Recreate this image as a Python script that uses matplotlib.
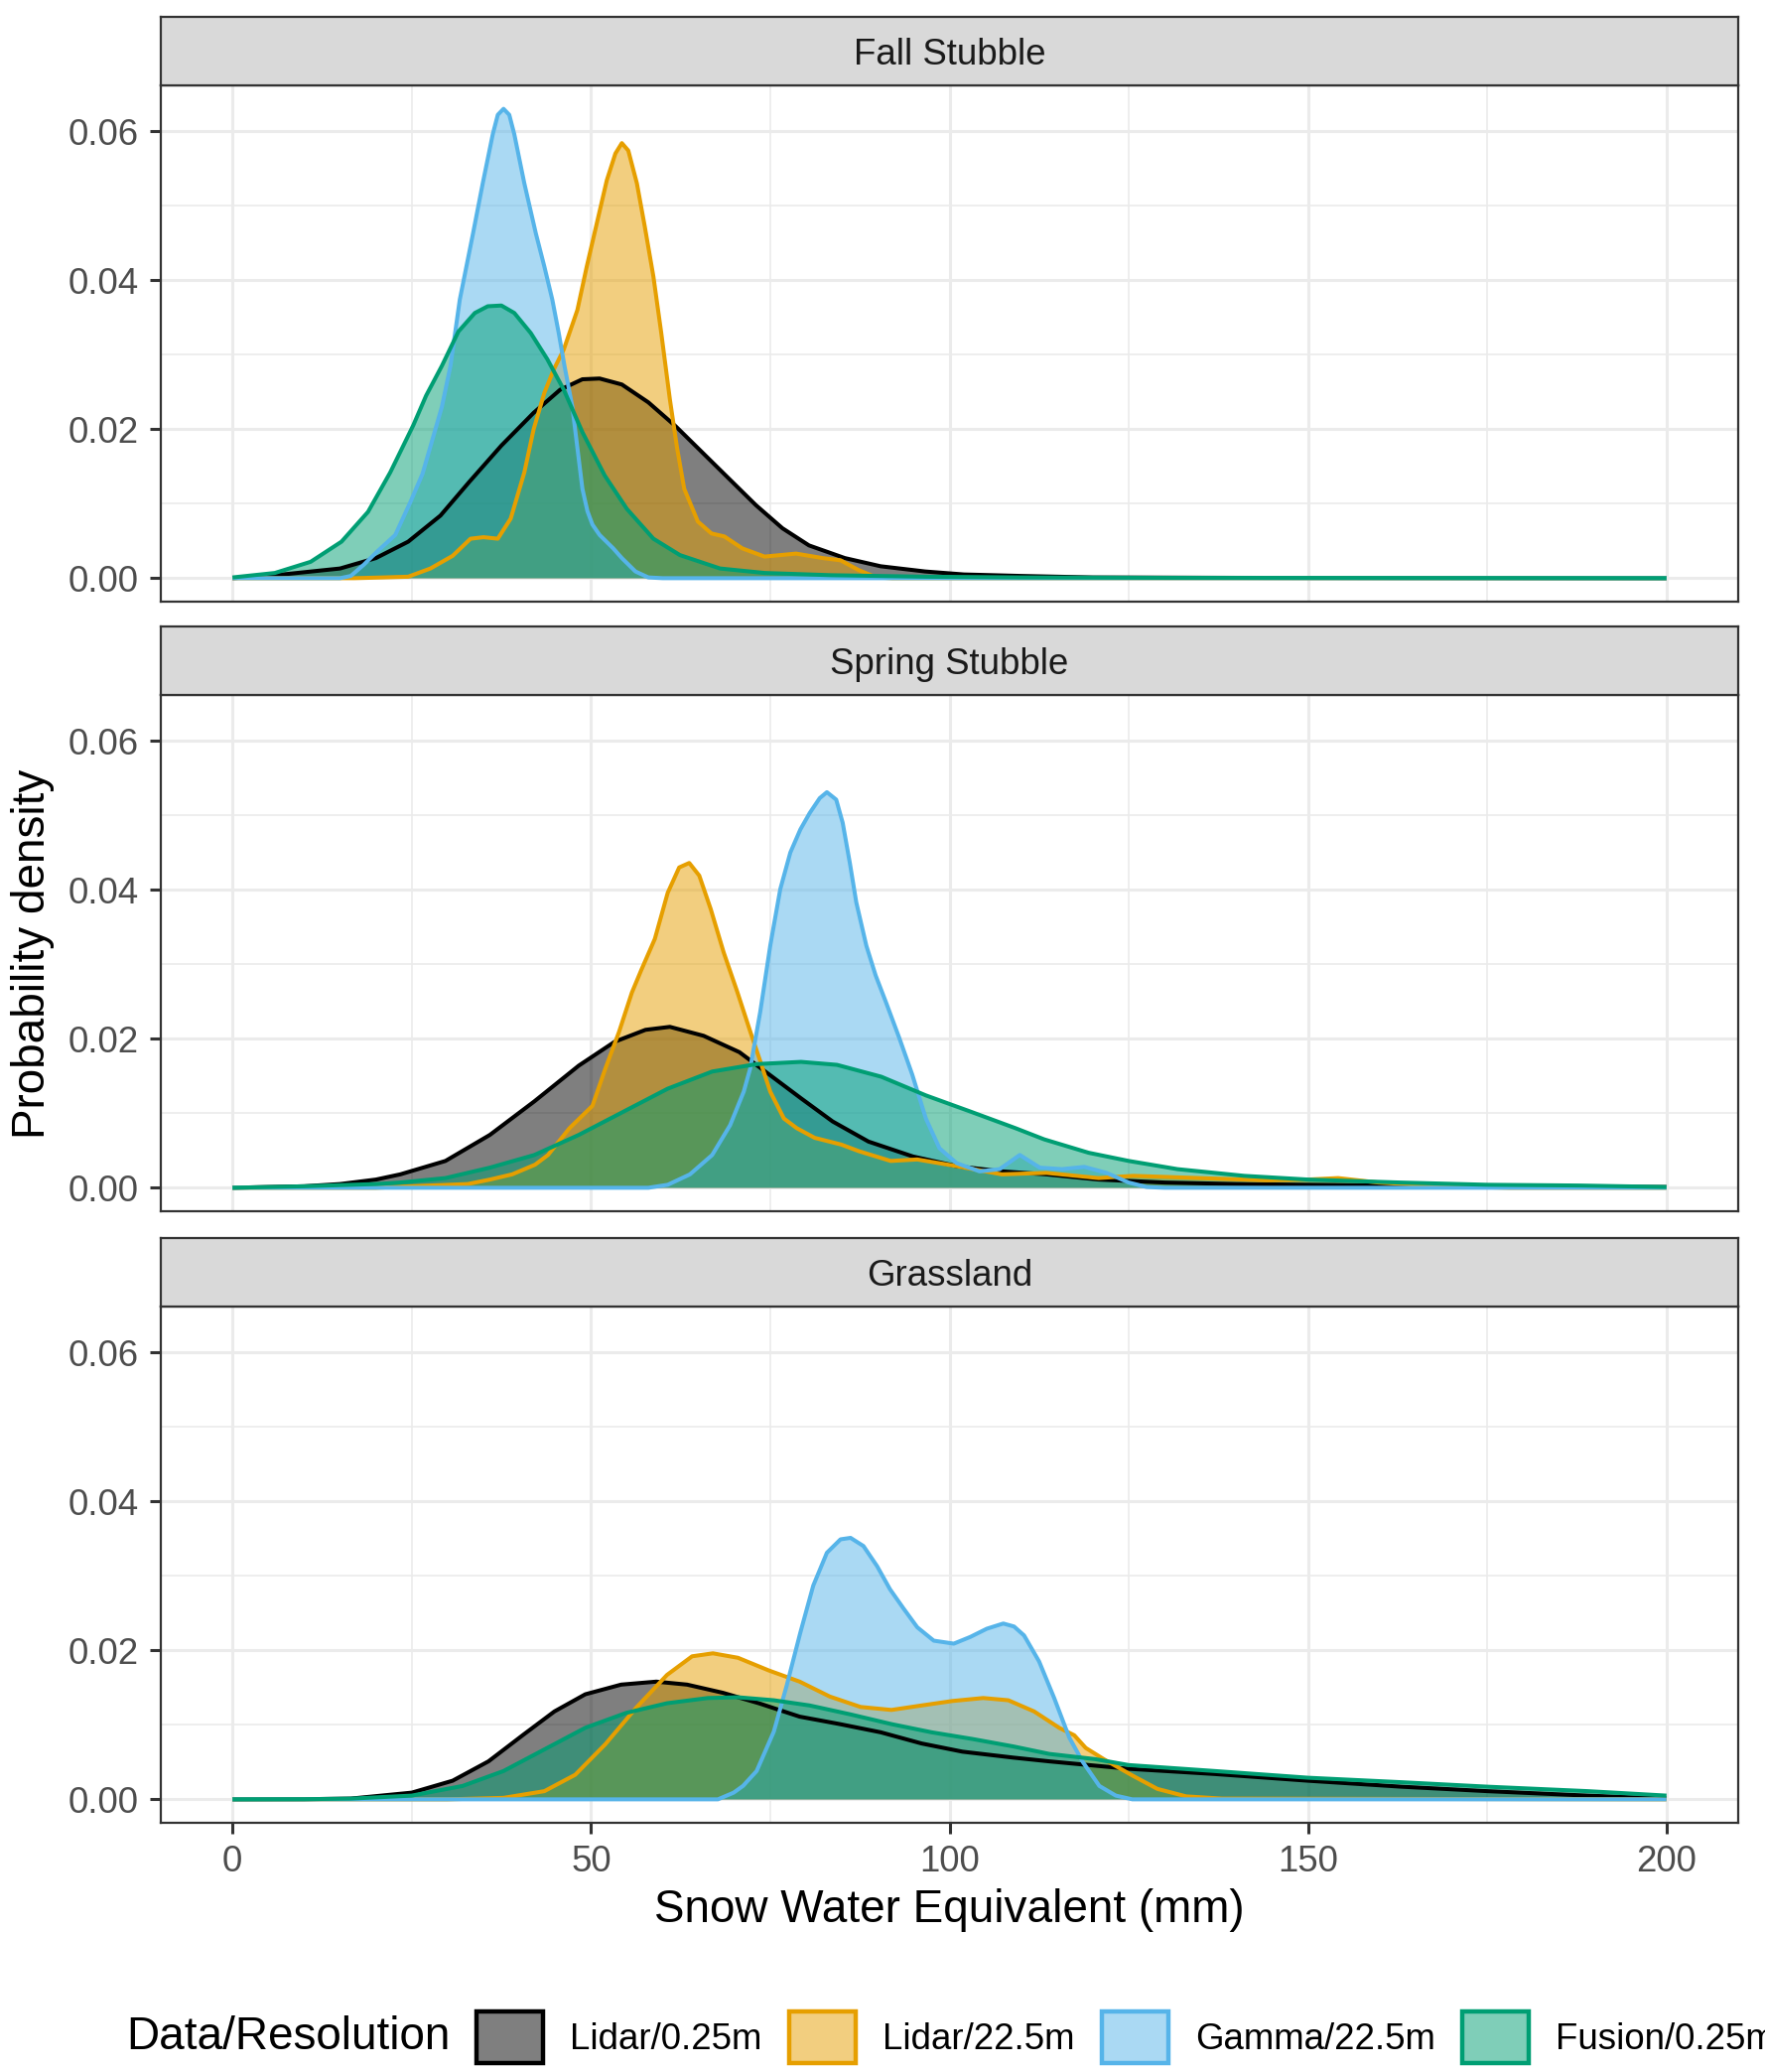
import matplotlib
matplotlib.use("Agg")
import matplotlib.pyplot as plt
from matplotlib.patches import Patch

plt.rcParams['font.family'] = ['Liberation Sans', 'DejaVu Sans']

panels = ['Fall Stubble', 'Spring Stubble', 'Grassland']
groups = ['Lidar/0.25m', 'Lidar/22.5m', 'Gamma/22.5m', 'Fusion/0.25m']
colors = ['#000000', '#E69F00', '#56B4E9', '#009E73']

x_ticks = [0, 50, 100, 150, 200]
y_ticks = [0.00, 0.02, 0.04, 0.06]
y_tick_labels = ['0.00', '0.02', '0.04', '0.06']

# ---- Fall Stubble
fall_lidar025_x = [0, 5, 9, 15, 20, 24.5, 29, 33, 37.5, 42, 45.7, 48.8, 51.2, 54.3, 58, 61.8,
                   65.5, 69.3, 73, 76.7, 80.4, 85.4, 90.4, 96.6, 102, 110, 120, 140, 170, 200]
fall_lidar025_y = [0, 0.0003, 0.0007, 0.0013, 0.0027, 0.0049, 0.0084, 0.0129, 0.0178, 0.0222,
                   0.0253, 0.0267, 0.0268, 0.026, 0.0236, 0.0204, 0.0169, 0.0133, 0.0098, 0.0067,
                   0.0044, 0.0027, 0.0016, 0.0009, 0.0005, 0.0003, 0.0001, 0.00005, 0.00002, 0]
fall_lidar225_x = [0, 17, 21, 24.5, 27.6, 30.7, 33.2, 35, 37, 38.8, 40.7, 42, 43.5, 44.8, 46.2,
                   48.1, 49.4, 50.8, 52.2, 53.4, 54.3, 55.2, 56.4, 57.5, 58.7, 59.8, 61, 62, 63,
                   64.9, 66.8, 68.6, 71.1, 74.2, 78.6, 82.3, 84.8, 87.3, 89.8, 92, 200]
fall_lidar225_y = [0, 0, 0.0001, 0.0002, 0.0013, 0.003, 0.0053, 0.0055, 0.0053, 0.008, 0.0142,
                   0.02, 0.0249, 0.028, 0.0307, 0.036, 0.0418, 0.0476, 0.0534, 0.057, 0.0584,
                   0.0574, 0.053, 0.0472, 0.0405, 0.0329, 0.024, 0.0175, 0.012, 0.0076, 0.006,
                   0.0056, 0.004, 0.0029, 0.0033, 0.0027, 0.0024, 0.0011, 0.0001, 0, 0]
fall_gamma_x = [0, 15, 16.5, 18.3, 20.2, 22.7, 24.8, 26.5, 28, 29.2, 30.4, 31.7, 33.55, 34.9,
                36.3, 37, 37.8, 38.6, 39.3, 40.7, 42.3, 43.5, 44.6, 45.5, 46.3, 47.4, 48.1, 48.8,
                49.5, 50.2, 51.2, 53.1, 54.3, 56.2, 58, 60, 200]
fall_gamma_y = [0, 0, 0.0003, 0.0018, 0.0036, 0.0058, 0.0102, 0.014, 0.019, 0.023, 0.0285,
                0.0374, 0.0463, 0.053, 0.0596, 0.0622, 0.063, 0.0622, 0.0596, 0.053, 0.0463,
                0.0418, 0.0374, 0.0329, 0.0285, 0.023, 0.0175, 0.012, 0.009, 0.0072, 0.0058,
                0.004, 0.0027, 0.0009, 0.0001, 0, 0]
fall_fusion_x = [0, 5.9, 10.9, 15.2, 18.9, 22, 25.2, 27, 29.2, 31.5, 33.8, 35.6, 37.5, 39.3, 41.6,
                 43.9, 46.2, 48.8, 51.9, 55, 58.7, 62.4, 68, 74.2, 83.5, 96.6, 110, 130, 200]
fall_fusion_y = [0.0001, 0.0007, 0.0022, 0.0049, 0.0089, 0.0142, 0.0205, 0.0245, 0.0285, 0.0331,
                 0.0356, 0.0365, 0.0366, 0.0356, 0.0329, 0.0294, 0.0253, 0.0196, 0.0138, 0.0093,
                 0.0053, 0.0031, 0.0013, 0.0007, 0.0004, 0.0002, 0.0001, 0.00005, 0]

# ---- Spring Stubble
spring_lidar025_x = [0, 10, 15, 20, 23.4, 29.7, 35.9, 42.1, 48.3, 53.3, 57.6, 61, 65.7, 70.7, 75,
                     79.3, 83.7, 88.7, 94.9, 101, 107.3, 113.5, 120.8, 130, 140, 150, 170, 200]
spring_lidar025_y = [0, 0.0002, 0.0005, 0.0011, 0.0018, 0.0036, 0.0071, 0.0116, 0.0164, 0.0196,
                     0.0212, 0.0216, 0.0204, 0.0182, 0.0151, 0.012, 0.0089, 0.0062, 0.0042, 0.0029,
                     0.0022, 0.0018, 0.0011, 0.0007, 0.0005, 0.0004, 0.0002, 0.0001]
spring_lidar225_x = [0, 20, 25, 32.8, 35.9, 39, 42.2, 44, 47, 50.2, 52, 53.9, 55.7, 57, 58.9,
                     60.7, 62.3, 63.7, 65.1, 66.7, 68.5, 70.4, 72.2, 73.6, 75, 76.9, 78.7, 81.2,
                     84.9, 87.4, 91.8, 95.5, 101, 107.3, 113.5, 120.8, 125.6, 134.9, 144.2, 150,
                     154.2, 159.8, 169, 178, 200]
spring_lidar225_y = [0, 0, 0.0002, 0.0005, 0.0011, 0.0018, 0.0031, 0.0044, 0.008, 0.011, 0.016,
                     0.0209, 0.0262, 0.0292, 0.0334, 0.0396, 0.043, 0.0436, 0.0419, 0.0374, 0.0316,
                     0.0263, 0.021, 0.017, 0.0129, 0.0093, 0.008, 0.0067, 0.0058, 0.0049, 0.0036,
                     0.0038, 0.0029, 0.0018, 0.002, 0.0013, 0.0016, 0.0013, 0.001, 0.0011, 0.0013,
                     0.0007, 0.0002, 0, 0]
spring_gamma_x = [0, 58, 60.7, 63.8, 66.9, 69.4, 71.3, 72.2, 73.6, 75, 76.4, 77.8, 79.2, 80.5,
                  81.9, 82.9, 84.2, 85.1, 86.1, 87, 88.4, 89.7, 91.1, 93, 94.8, 96.7, 98.6, 101,
                  104.2, 107, 109.8, 112.6, 115.7, 118.8, 121.9, 125, 127.5, 130, 200]
spring_gamma_y = [0, 0, 0.0004, 0.0018, 0.0044, 0.0084, 0.0129, 0.016, 0.0236, 0.0325, 0.0401,
                  0.045, 0.0481, 0.0503, 0.0523, 0.0531, 0.0521, 0.049, 0.0436, 0.0383, 0.0325,
                  0.0285, 0.025, 0.0201, 0.0152, 0.0093, 0.0053, 0.0033, 0.0022, 0.0025, 0.0044,
                  0.0027, 0.0025, 0.0028, 0.002, 0.0007, 0.0001, 0, 0]
spring_fusion_x = [0, 10, 20, 23.4, 29.7, 35.9, 42.1, 48.3, 54.5, 60.7, 66.9, 73.1, 79.3, 84.3,
                   90.5, 96.7, 103, 109.2, 113.2, 119.4, 125, 131.8, 141.1, 150, 162.9, 175, 187.8,
                   200]
spring_fusion_y = [0, 0.0002, 0.0005, 0.0007, 0.0013, 0.0027, 0.0044, 0.0071, 0.0102, 0.0133,
                   0.0156, 0.0166, 0.0169, 0.0165, 0.0149, 0.0124, 0.0102, 0.008, 0.0065, 0.0047,
                   0.0036, 0.0025, 0.0016, 0.0011, 0.0007, 0.0004, 0.0003, 0.0001]

# ---- Grassland
grass_lidar025_x = [0, 10, 16.5, 25, 30.7, 35.7, 40.6, 44.9, 49.2, 54.2, 59.1, 63.4, 68.4, 73.4,
                    79.1, 84.7, 90.4, 96.1, 101.8, 108.9, 113.9, 125, 137, 150, 163, 175, 189, 200]
grass_lidar025_y = [0, 0.00002, 0.0001, 0.0009, 0.0025, 0.0051, 0.0087, 0.0118, 0.0141, 0.0154,
                    0.0158, 0.0154, 0.0143, 0.0129, 0.0111, 0.0101, 0.009, 0.0075, 0.0064, 0.0056,
                    0.0051, 0.0041, 0.0034, 0.0025, 0.0017, 0.0011, 0.0005, 0.0001]
grass_lidar225_x = [0, 30, 37.8, 43.5, 47.8, 52, 56.3, 60.6, 64.1, 67, 70.5, 74.8, 79.1, 83.3,
                    87.6, 91.9, 96.1, 100.4, 104.7, 108.2, 111.8, 115.3, 117.4, 119, 121.5, 125.5,
                    129, 133, 138, 200]
grass_lidar225_y = [0, 0, 0.0002, 0.0011, 0.0033, 0.0074, 0.0123, 0.0167, 0.0192, 0.0196, 0.019,
                    0.0173, 0.0158, 0.0138, 0.0124, 0.012, 0.0126, 0.0132, 0.0136, 0.0133, 0.0118,
                    0.0096, 0.0086, 0.0069, 0.0054, 0.0032, 0.0014, 0.0004, 0.0001, 0]
grass_gamma_x = [0, 67.7, 69.9, 71.2, 73.1, 75.5, 77.3, 79.2, 81, 82.9, 84.8, 86.2, 88, 89.9,
                 91.7, 93.6, 95.5, 97.8, 100.6, 102.9, 105.2, 107.5, 109, 110.4, 112.5, 114.6,
                 116.7, 118.6, 120.9, 123.2, 125.5, 200]
grass_gamma_y = [0, 0, 0.0009, 0.0018, 0.0038, 0.0091, 0.0153, 0.0224, 0.0287, 0.0331, 0.0349,
                 0.0351, 0.034, 0.0313, 0.0282, 0.0256, 0.0231, 0.0213, 0.0209, 0.0218, 0.0229,
                 0.0236, 0.0232, 0.022, 0.0185, 0.0136, 0.0083, 0.005, 0.0018, 0.0005, 0, 0]
grass_fusion_x = [0, 10, 16.5, 25, 32.1, 37.8, 43.5, 49.2, 54.9, 60.6, 66.3, 70.5, 75.5, 80.5,
                  86.2, 91.9, 97.5, 103.2, 108.9, 113.9, 120.3, 125, 137, 150, 163, 175, 189, 200]
grass_fusion_y = [0, 0.00002, 0.0001, 0.0005, 0.0018, 0.0038, 0.0067, 0.0096, 0.0116, 0.0129,
                  0.0136, 0.0137, 0.0133, 0.0126, 0.0114, 0.0101, 0.009, 0.0081, 0.0071, 0.0061,
                  0.0054, 0.0046, 0.0038, 0.0029, 0.0023, 0.0017, 0.0011, 0.0005]

curves = {
    'Fall Stubble': [(fall_lidar025_x, fall_lidar025_y), (fall_lidar225_x, fall_lidar225_y),
                     (fall_gamma_x, fall_gamma_y), (fall_fusion_x, fall_fusion_y)],
    'Spring Stubble': [(spring_lidar025_x, spring_lidar025_y), (spring_lidar225_x, spring_lidar225_y),
                       (spring_gamma_x, spring_gamma_y), (spring_fusion_x, spring_fusion_y)],
    'Grassland': [(grass_lidar025_x, grass_lidar025_y), (grass_lidar225_x, grass_lidar225_y),
                  (grass_gamma_x, grass_gamma_y), (grass_fusion_x, grass_fusion_y)],
}

W, H = 1778, 2087
fig = plt.figure(figsize=(W / 200, H / 200), dpi=200)

left = 162 / W
width = (1751 - 162) / W
panel_h = 520 / H
strip_h = 69 / H
panel_tops = [86, 700, 1316]

border = '#333333'
for i, name in enumerate(panels):
    top = 1 - panel_tops[i] / H
    ax = fig.add_axes([left, top - panel_h, width, panel_h])
    # each group: translucent fill, then its upper outline (ggplot draw order)
    for (xs, ys), col in zip(curves[name], colors):
        ax.fill_between(xs, ys, 0, facecolor=col, alpha=0.5, linewidth=0)
        ax.plot(xs, ys, color=col, lw=1.45, solid_joinstyle='round', solid_capstyle='butt')
    ax.set_xlim(-10, 210)
    ax.set_ylim(-0.00315, 0.06615)
    ax.set_xticks(x_ticks)
    ax.set_xticks([25, 75, 125, 175], minor=True)
    ax.set_yticks(y_ticks)
    ax.set_yticklabels(y_tick_labels)
    ax.set_yticks([0.01, 0.03, 0.05], minor=True)
    ax.grid(which='major', color='#EBEBEB', lw=1.1)
    ax.grid(which='minor', color='#EBEBEB', lw=0.6)
    ax.set_axisbelow(True)
    for s in ax.spines.values():
        s.set_color(border)
        s.set_linewidth(0.8)
    ax.tick_params(which='minor', length=0)
    ax.tick_params(which='major', length=4, width=1.1, color=border,
                   labelsize=13.2, labelcolor='#4D4D4D', pad=4)
    if i < len(panels) - 1:
        ax.tick_params(axis='x', which='both', length=0, labelbottom=False)
    else:
        ax.set_xticklabels([str(v) for v in x_ticks])

    sax = fig.add_axes([left, top, width, strip_h])
    sax.set_facecolor('#D9D9D9')
    sax.set_xticks([])
    sax.set_yticks([])
    for s in sax.spines.values():
        s.set_color(border)
        s.set_linewidth(0.8)
    sax.text(0.5, 0.5, name, ha='center', va='center_baseline', fontsize=13.2,
             color='#1A1A1A', transform=sax.transAxes)

fig.text(33.5 / W, 1 - 961 / H, 'Probability density', rotation=90, ha='center',
         va='center', fontsize=16.5)
fig.text((162 + 1751) / 2 / W, 1 - 1924 / H, 'Snow Water Equivalent (mm)', ha='center',
         va='center', fontsize=16.5)

# legend at the bottom, title on the left; like the original it runs past the right edge
fig.text(127 / W, 1 - 2052 / H, 'Data/Resolution', ha='left', va='center', fontsize=16.5)
handles = [Patch(facecolor=matplotlib.colors.to_rgba(c, 0.5), edgecolor=c, linewidth=1.6)
           for c in colors]
fig.legend(handles, groups, loc='center left', bbox_to_anchor=(480 / W, 1 - 2052 / H),
           ncol=4, frameon=False, fontsize=13.2, handlelength=1.83, handleheight=1.83,
           handletextpad=0.74, columnspacing=0.74, borderpad=0, borderaxespad=0)

fig.savefig('out.png', dpi=200)
